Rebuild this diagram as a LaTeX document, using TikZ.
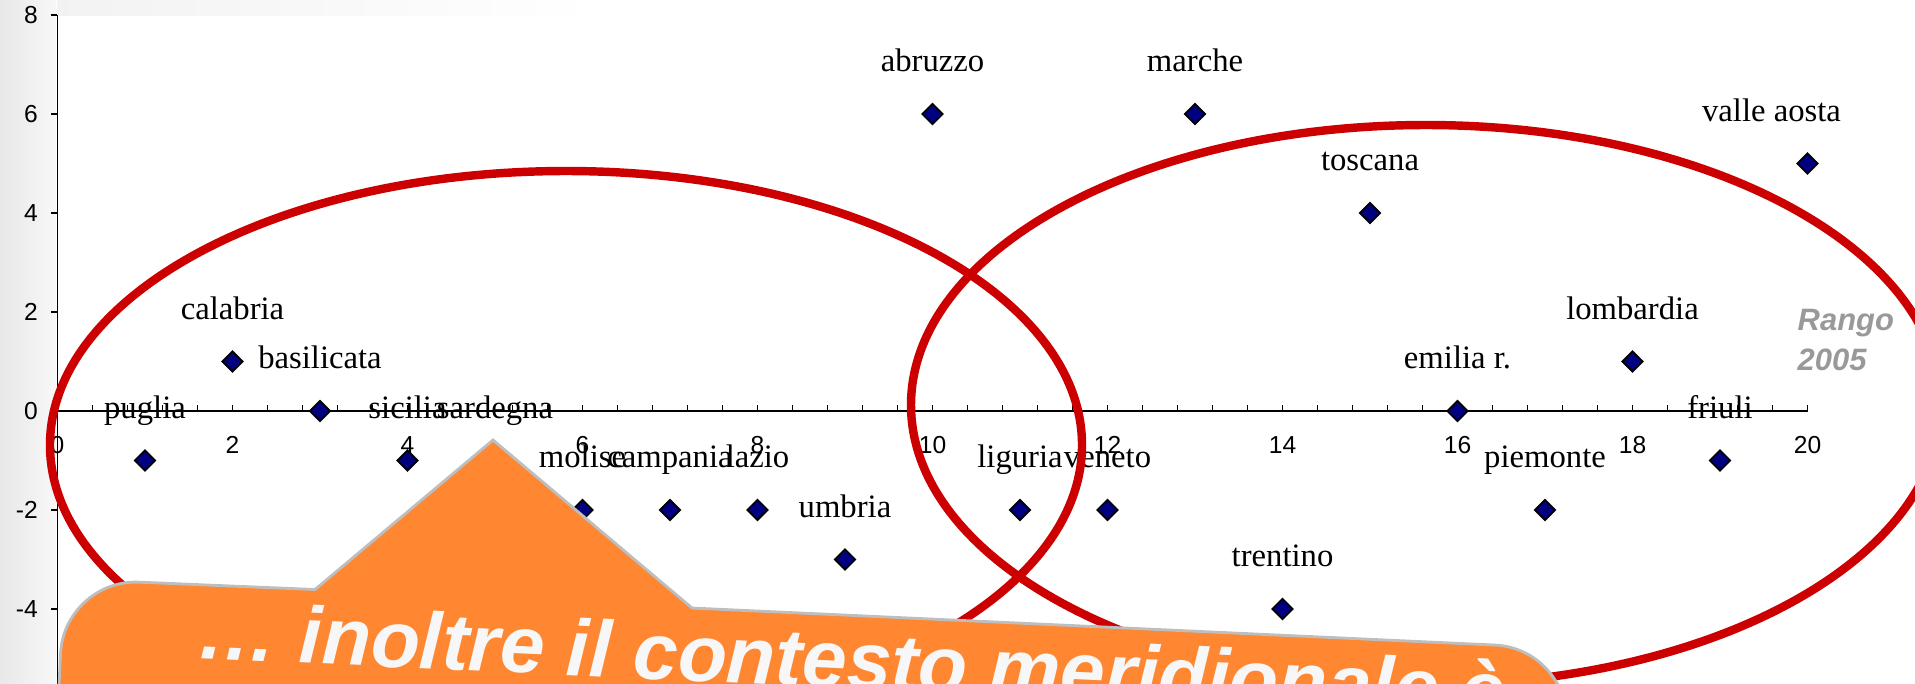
\documentclass[tikz,border=0pt]{standalone}
\usepackage{fontspec}
\setmainfont{Liberation Serif}
\setsansfont{Liberation Sans}
\usepackage{tikz}
\usetikzlibrary{positioning}
\usetikzlibrary{shapes.geometric}

\definecolor{ptnavy}{RGB}{0,0,128}
\definecolor{ringred}{RGB}{204,0,0}
\definecolor{boxorange}{RGB}{255,135,50}
\definecolor{boxedge}{RGB}{190,190,190}
\definecolor{rangogray}{RGB}{153,153,153}
\definecolor{msgwhite}{RGB}{247,247,247}

\begin{document}
\begin{tikzpicture}[x=0.875cm,y=0.495cm,node distance=0.5cm,
        pt/.style={diamond,draw=black,fill=ptnavy,line width=0.5pt,inner sep=0pt,
                minimum width=0.21cm,minimum height=0.21cm},
        lab/.style={font=\fontsize{9.3}{11}\selectfont,inner sep=0pt,
                text height=6.4pt,text depth=1.9pt},
        tick/.style={font=\sffamily\fontsize{7}{8}\selectfont,inner sep=0pt},
        axis/.style={draw=black,line width=0.4pt},
        ring/.style={draw=ringred,line width=2.4pt},
        callout/.style={fill=boxorange,draw=boxedge,line width=0.8pt},
        msg/.style={font=\sffamily\bfseries\itshape\fontsize{22.8}{27}\selectfont,
                text=msgwhite,inner sep=0pt},
        rango/.style={font=\sffamily\bfseries\itshape\fontsize{8.8}{10}\selectfont,
                text=rangogray,inner sep=0pt}]

\useasboundingbox (-0.575cm,-2.72cm) rectangle (18.575cm,4.11cm);
\clip (-0.575cm,-2.72cm) rectangle (18.575cm,4.11cm);

\shade[left color=gray!18,right color=gray!6] (-0.575cm,-2.72cm) rectangle (-0.02cm,4.11cm);
\shade[left color=gray!10,right color=white] (0cm,3.96cm) rectangle (5.4cm,4.11cm);

\draw[axis] (0,8) -- (0,-6);
\draw[axis] (0,0) -- (20,0);
\foreach \i in {0,...,50}
    \draw[axis] (0.4*\i,0) -- ++(0,0.065cm);
\foreach \v in {-6,-4,...,8}
    \draw[axis] (0,\v) -- ++(-0.06cm,0);
\foreach \v in {0,2,...,20}
    \node[tick,yshift=-3.4mm] (x\v) at (\v,0) {\v};
\foreach \v in {-4,-2,...,8}
    \node[tick,anchor=east,xshift=-1.9mm] (y\v) at (0,\v) {\v};

\node[pt] (puglia) at (1,-1) {};
\node[pt] (calabria) at (2,1) {};
\node[pt] (basilicata) at (3,0) {};
\node[pt] (sicilia) at (4,-1) {};
\node[pt] (sardegna) at (5,-1) {};
\node[pt] (molise) at (6,-2) {};
\node[pt] (campania) at (7,-2) {};
\node[pt] (lazio) at (8,-2) {};
\node[pt] (umbria) at (9,-3) {};
\node[pt] (abruzzo) at (10,6) {};
\node[pt] (liguria) at (11,-2) {};
\node[pt] (veneto) at (12,-2) {};
\node[pt] (marche) at (13,6) {};
\node[pt] (trentino) at (14,-4) {};
\node[pt] (toscana) at (15,4) {};
\node[pt] (emilia) at (16,0) {};
\node[pt] (piemonte) at (17,-2) {};
\node[pt] (lombardia) at (18,1) {};
\node[pt] (friuli) at (19,-1) {};
\node[pt] (valle) at (20,5) {};

\node[lab] (puglia-l) [above of=puglia] {puglia};
\node[lab] (calabria-l) [above of=calabria] {calabria};
\node[lab] (basilicata-l) [above of=basilicata] {basilicata};
\node[lab] (sicilia-l) [above of=sicilia] {sicilia};
\node[lab] (sardegna-l) [above of=sardegna] {sardegna};
\node[lab] (molise-l) [above of=molise] {molise};
\node[lab] (campania-l) [above of=campania] {campania};
\node[lab] (lazio-l) [above of=lazio] {lazio};
\node[lab] (umbria-l) [above of=umbria] {umbria};
\node[lab] (abruzzo-l) [above of=abruzzo] {abruzzo};
\node[lab] (liguria-l) [above of=liguria] {liguria};
\node[lab] (veneto-l) [above of=veneto] {veneto};
\node[lab] (marche-l) [above of=marche] {marche};
\node[lab] (trentino-l) [above of=trentino] {trentino};
\node[lab] (toscana-l) [above of=toscana] {toscana};
\node[lab] (emilia-l) [above of=emilia] {emilia r.};
\node[lab] (piemonte-l) [above of=piemonte] {piemonte};
\node[lab] (lombardia-l) [above of=lombardia] {lombardia};
\node[lab] (friuli-l) [above of=friuli] {friuli};
\node[lab,xshift=-3.6mm] (valle-l) [above of=valle] {valle aosta};

\node[rango,anchor=base west] (rango) at (17.395cm,0.81cm) {Rango};
\node[rango,anchor=base west] (anno) at (17.395cm,0.41cm) {2005};

\draw[ring] (5.085cm,-0.34cm) ellipse [x radius=5.16cm,y radius=2.74cm];
\draw[ring] (13.685cm,0.06cm) ellipse [x radius=5.15cm,y radius=2.8cm];

\coordinate (bl) at (-0.075cm,-4.68cm);
\coordinate (tl) at (0.065cm,-1.68cm);
\coordinate (pl) at (2.575cm,-1.785cm);
\coordinate (tip) at (4.355cm,-0.29cm);
\coordinate (pr) at (6.345cm,-1.97cm);
\coordinate (tr) at (15.125cm,-2.375cm);
\coordinate (br) at (14.985cm,-5.37cm);
\draw[callout] (bl) [rounded corners=7.5mm] -- (tl) [sharp corners] -- (pl) -- (tip) -- (pr)
    [rounded corners=7.5mm] -- (tr) [sharp corners] -- (br) -- cycle;

\node[msg,anchor=base west,rotate=-2.64] (msgtext) at (1.385cm,-2.47cm)
    {… inoltre il contesto meridionale è};

\end{tikzpicture}
\end{document}
